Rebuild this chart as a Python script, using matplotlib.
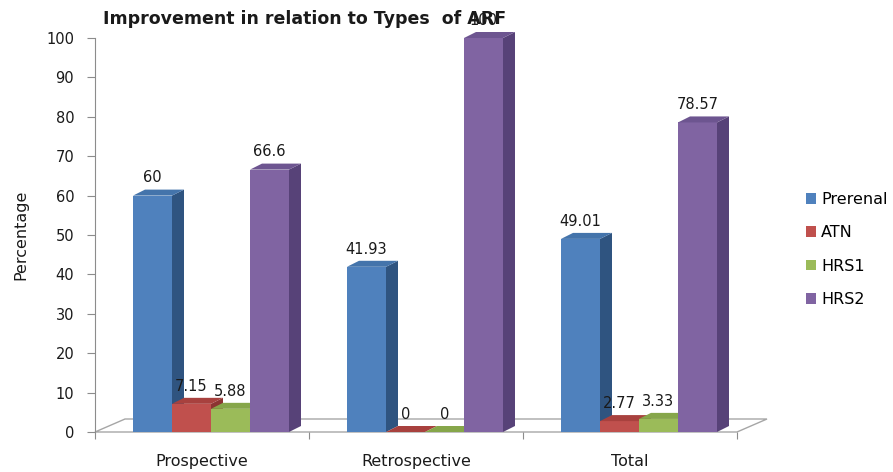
import matplotlib.pyplot as plt
from matplotlib.patches import Polygon, Patch
import numpy as np

plt.rcParams['font.family'] = ['DejaVu Sans']

groups = ['Prospective', 'Retrospective', 'Total']
series = ['Prerenal', 'ATN', 'HRS1', 'HRS2']
prerenal = [60, 41.93, 49.01]
atn = [7.15, 0, 2.77]
hrs1 = [5.88, 0, 3.33]
hrs2 = [66.6, 100, 78.57]
labels = [['60', '41.93', '49.01'],
          ['7.15', '0', '2.77'],
          ['5.88', '0', '3.33'],
          ['66.6', '100', '78.57']]

front = ['#4f81bd', '#c0504d', '#9bbb59', '#8064a2']
side = ['#2f5480', '#8c3432', '#6f8a3c', '#574278']
top = ['#4474ab', '#a8413e', '#86a64a', '#6d5590']
txt = '#1a1a1a'

fig = plt.figure(figsize=(8.93, 4.72), dpi=100)
ax = fig.add_axes([95 / 893, 1 - 432 / 472, 642 / 893, 394 / 472])
ax.set_xlim(0, 3)
ax.set_ylim(0, 100)

# pixel -> data scale for the fake depth
px_x = 3 / 642
px_y = 100 / 394
bw = 39 * px_x
bdx, bdy = 12 * px_x, 6 * px_y
fdx, fdy = 30 * px_x, 13 * px_y

# floor
floor = Polygon([(0, 0), (3, 0), (3 + fdx, fdy), (fdx, fdy)], closed=True,
                facecolor='white', edgecolor='#a6a6a6', lw=1, clip_on=False, zorder=0)
ax.add_patch(floor)

vals = [prerenal, atn, hrs1, hrs2]
start = 38 * px_x
for g in range(len(groups)):
    for s in range(len(series)):
        v = vals[s][g]
        x0 = g + start + s * bw
        x1 = x0 + bw
        z = 2 + g * 10 + s
        if v > 0:
            ax.bar(x0, v, width=bw, align='edge', color=front[s], zorder=z)
            ax.add_patch(Polygon([(x1, 0), (x1 + bdx, bdy), (x1 + bdx, v + bdy), (x1, v)],
                                 facecolor=side[s], lw=0, zorder=z, clip_on=False))
        ax.add_patch(Polygon([(x0, v), (x1, v), (x1 + bdx, v + bdy), (x0 + bdx, v + bdy)],
                             facecolor=top[s], lw=0, zorder=z, clip_on=False))
        ax.annotate(labels[s][g], (x0 + bw / 2, v + bdy), xytext=(0, 3),
                    textcoords='offset points', ha='center', va='bottom',
                    fontsize=10.5, color=txt, zorder=50, annotation_clip=False)

for sp in ['top', 'right', 'bottom']:
    ax.spines[sp].set_visible(False)
ax.spines['left'].set_color('#8c8c8c')
ax.set_yticks(np.arange(0, 101, 10))
ax.tick_params(axis='y', direction='out', length=6, color='#8c8c8c',
               labelsize=10.5, pad=9, labelcolor=txt)
ax.set_xticks([0, 1, 2, 3])
ax.set_xticklabels([])
ax.tick_params(axis='x', which='major', direction='out', length=5, color='#8c8c8c')
ax.set_xticks([0.5, 1.5, 2.5], minor=True)
ax.set_xticklabels(groups, minor=True)
ax.tick_params(axis='x', which='minor', length=0, pad=16, labelsize=11.5, labelcolor=txt)

ax.set_ylabel('Percentage', fontsize=11.5, labelpad=13, color=txt)

fig.text(103 / 893, 1 - 19 / 472, 'Improvement in relation to Types  of ARF',
         ha='left', va='center', fontsize=12.5, fontweight='bold', color=txt)

handles = [Patch(facecolor=c, label=n) for c, n in zip(front, series)]
fig.legend(handles=handles, loc='upper left', bbox_to_anchor=(806 / 893, 1 - 192 / 472),
           frameon=False, fontsize=11.5, handlelength=0.65, handleheight=0.65,
           handletextpad=0.3, labelspacing=1.15, borderaxespad=0, borderpad=0)

fig.savefig('out.png', dpi=100)
